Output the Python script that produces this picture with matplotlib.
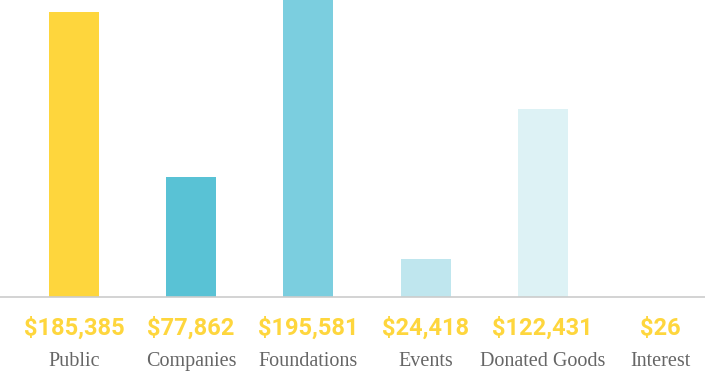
import matplotlib
matplotlib.use("Agg")
import matplotlib.pyplot as plt

# ── Data ──────────────────────────────────────────────────────────────────────
categories = ["Public", "Companies", "Foundations", "Events", "Donated Goods", "Interest"]
amounts = [185385, 77862, 195581, 24418, 122431, 26]
value_labels = ["$185,385", "$77,862", "$195,581", "$24,418", "$122,431", "$26"]

colors = ["#FED63D", "#59C2D5", "#7BCEDF", "#BFE6EE", "#DDF2F5", "#EEF8FA"]

# ── Figure ────────────────────────────────────────────────────────────────────
W, H = 705, 371
base_y = 297
fig = plt.figure(figsize=(W / 100, H / 100), dpi=100)
ax = fig.add_axes([0, (H - base_y) / H, 1, base_y / H])

x = list(range(len(categories)))
ax.bar(x, amounts, width=0.427, color=colors, zorder=2)

ax.set_xlim(-0.631, 5.384)
ax.set_ylim(0, 193188)
ax.axhline(0, color="#CCCCCC", lw=1.2, zorder=3, clip_on=False)
ax.axis("off")

for i, (v, c) in enumerate(zip(value_labels, categories)):
    ax.annotate(v, (i, 0), xytext=(0, -38), textcoords="offset pixels",
                ha="center", va="baseline", fontsize=17, fontweight="bold",
                family="Roboto", color="#FED63D", annotation_clip=False)
    ax.annotate(c, (i, 0), xytext=(0, -69), textcoords="offset pixels",
                ha="center", va="baseline", fontsize=14.5,
                family="Liberation Serif", color="#666666", annotation_clip=False)

fig.savefig("out.png", dpi=100)
